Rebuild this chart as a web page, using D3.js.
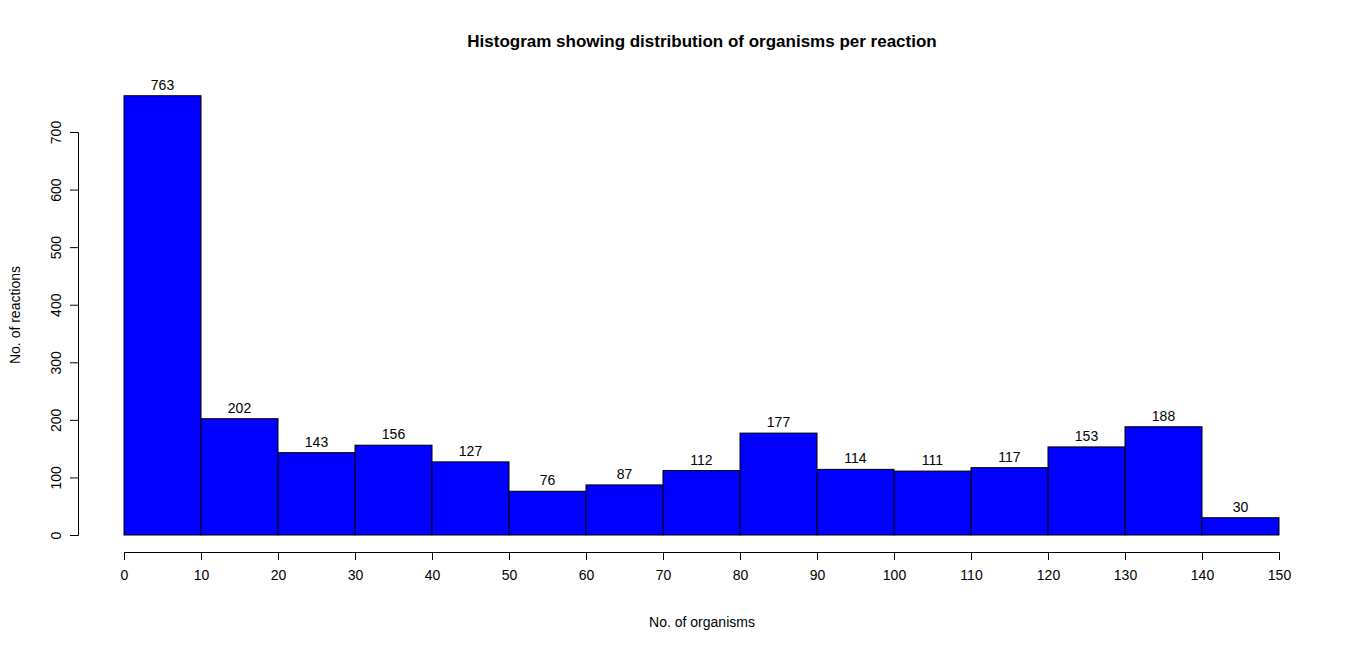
<!DOCTYPE html><html><head><meta charset="utf-8"><script src="https://cdn.jsdelivr.net/npm/d3@7"></script>
<style>body{margin:0;background:#fff}text{font-family:Arial,"Liberation Sans",sans-serif}</style></head><body>
<svg id="c" width="1366" height="651"></svg>
<script>
const binStarts=[0,10,20,30,40,50,60,70,80,90,100,110,120,130,140];
const counts=[763,202,143,156,127,76,87,112,177,114,111,117,153,188,30];
const xTicks=d3.range(0,151,10);
const yTicks=[0,100,200,300,400,500,600,700];
const svg=d3.select("#c");
const x=d3.scaleLinear().domain([0,150]).range([124,1279]);
const y=d3.scaleLinear().domain([0,700]).range([535,132]);
svg.selectAll("rect").data(binStarts).enter().append("rect")
 .attr("x",d=>x(d)).attr("width",d=>x(d+10)-x(d))
 .attr("y",(d,i)=>y(counts[i])).attr("height",(d,i)=>y(0)-y(counts[i]))
 .attr("fill","#0000ff").attr("stroke","#000").attr("stroke-width",1);
svg.selectAll("text.v").data(binStarts).enter().append("text")
 .attr("x",d=>x(d+5)).attr("y",(d,i)=>y(counts[i])-6).attr("text-anchor","middle")
 .attr("font-size",14).text((d,i)=>counts[i]);
const xa=svg.append("g").attr("transform","translate(0,552)").call(d3.axisBottom(x).tickValues(xTicks).tickSize(8).tickPadding(10));
const ya=svg.append("g").attr("transform","translate(78,0)").call(d3.axisLeft(y).tickValues(yTicks).tickSize(8).tickPadding(10));
[xa,ya].forEach(a=>{a.select(".domain").attr("stroke","#000");a.selectAll("text").attr("font-size",14).attr("fill","#000").attr("font-family","Arial,Liberation Sans,sans-serif");});
ya.selectAll(".tick text").attr("transform",function(){return "rotate(-90)";}).attr("text-anchor","middle")
 .attr("x",0).attr("y",0).attr("dy",0).each(function(d){d3.select(this).attr("transform",`translate(-22,0) rotate(-90)`).attr("dy","0.35em");});
svg.append("text").attr("x",702).attr("y",47).attr("text-anchor","middle").attr("font-size",17).attr("font-weight","bold").text("Histogram showing distribution of organisms per reaction");
svg.append("text").attr("x",702).attr("y",627).attr("text-anchor","middle").attr("font-size",14).text("No. of organisms");
svg.append("text").attr("transform","translate(20,315) rotate(-90)").attr("text-anchor","middle").attr("font-size",14).text("No. of reactions");
</script></body></html>
